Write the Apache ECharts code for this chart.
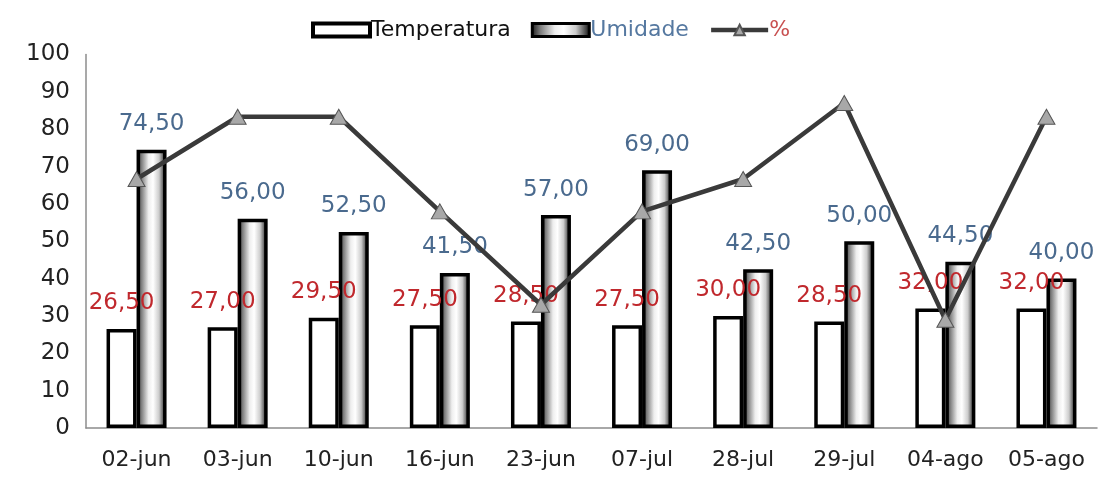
<!DOCTYPE html>
<html>
<head>
<meta charset="utf-8">
<script src="https://cdn.jsdelivr.net/npm/echarts@6/dist/echarts.min.js"></script>
<style>
html,body{margin:0;padding:0;background:#fff;}
#chart{width:1101px;height:483px;}
</style>
</head>
<body>
<div id="chart"></div>
<script>
const categories = ['02-jun','03-jun','10-jun','16-jun','23-jun','07-jul','28-jul','29-jul','04-ago','05-ago'];
const temperatura = [26.5, 27, 29.5, 27.5, 28.5, 27.5, 30, 28.5, 32, 32];
const umidade = [74.5, 56, 52.5, 41.5, 57, 69, 42.5, 50, 44.5, 40];
const percentual = [66.67, 83.33, 83.33, 58, 33, 58, 66.67, 87, 29, 83.33];
const yTicks = [0, 10, 20, 30, 40, 50, 60, 70, 80, 90, 100];

const fmt = p => p.value.toFixed(2).replace('.', ',');
const FONT = 'DejaVu Sans';
const cyl = {
  type: 'linear', x: 0, y: 0, x2: 1, y2: 0,
  colorStops: [
    {offset: 0, color: '#111'},
    {offset: 0.15, color: '#777'},
    {offset: 0.4, color: '#eee'},
    {offset: 0.55, color: '#fff'},
    {offset: 0.75, color: '#ccc'},
    {offset: 0.92, color: '#444'},
    {offset: 1, color: '#000'}
  ]
};

const chart = echarts.init(document.getElementById('chart'), null, {renderer: 'canvas'});
chart.setOption({
  animation: false,
  backgroundColor: '#fff',
  legend: {
    left: 306, top: 14,
    itemWidth: 57, itemHeight: 13, itemGap: 20,
    textStyle: {fontFamily: FONT, fontSize: 22, color: '#000', padding: [0,0,0,-4]},
    data: [
      {name: 'Temperatura', icon: 'rect', itemStyle: {borderWidth: 4, borderColor: '#000'}, textStyle: {color: '#111'}},
      {name: 'Umidade', icon: 'rect', itemStyle: {borderWidth: 3, borderColor: '#000'}, textStyle: {color: '#5578a0'}},
      {name: '%', textStyle: {color: '#c85050'}, lineStyle: {width: 4.5, color: '#3a3a3a'}}
    ]
  },
  grid: {left: 86, right: 4, top: 54.5, bottom: 55},
  xAxis: {
    type: 'category',
    data: categories,
    axisLine: {lineStyle: {color: '#8c8c8c', width: 1.5}},
    axisTick: {show: false},
    axisLabel: {interval: 0, fontFamily: FONT, fontSize: 22, color: '#222', margin: 21}
  },
  yAxis: {
    type: 'value', min: yTicks[0], max: yTicks[yTicks.length-1], interval: 10,
    axisLine: {show: true, lineStyle: {color: '#8c8c8c', width: 1.5}},
    axisTick: {show: false},
    splitLine: {show: false},
    axisLabel: {fontFamily: FONT, fontSize: 23, color: '#222', margin: 16}
  },
  series: [
    {
      name: 'Temperatura', type: 'bar', data: temperatura,
      barWidth: 30, barGap: '0%',
      itemStyle: {color: '#fff', borderColor: '#000', borderWidth: 3.5},
      label: {show: true, position: 'top', distance: 14, formatter: fmt,
              fontFamily: FONT, fontSize: 23, color: '#c0282d'}
    },
    {
      name: 'Umidade', type: 'bar', data: umidade,
      barWidth: 30,
      itemStyle: {color: cyl, borderColor: '#000', borderWidth: 3.5},
      label: {show: true, position: 'top', distance: 14, formatter: fmt,
              fontFamily: FONT, fontSize: 23, color: '#4a6a8e'}
    },
    {
      name: '%', type: 'line', data: percentual,
      lineStyle: {color: '#3a3a3a', width: 4.5},
      itemStyle: {color: '#a8a8a8', borderColor: '#555', borderWidth: 1},
      symbol: 'triangle', symbolSize: [17, 15],
      z: 5
    }
  ]
});
</script>
</body>
</html>
